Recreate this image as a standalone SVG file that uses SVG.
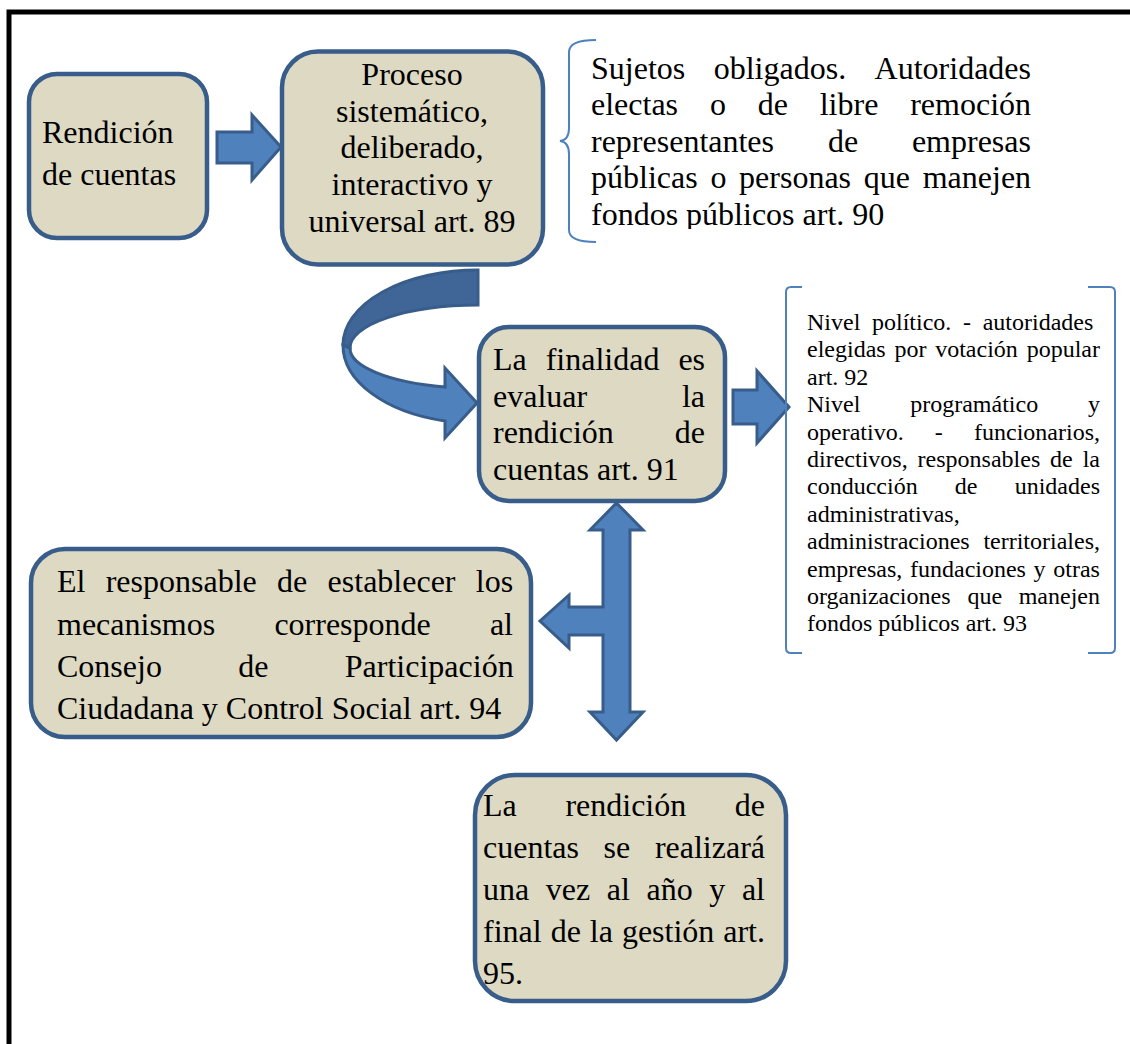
<svg xmlns="http://www.w3.org/2000/svg" width="1130" height="1044" viewBox="0 0 1130 1044">
<style>
.box{fill:#DDD9C3;stroke:#385D8A;stroke-width:4.5}
.arr{fill:#4F81BD;stroke:#385D8A;stroke-width:3;stroke-linejoin:miter}
.arrd{fill:#3F6697;stroke:#385D8A;stroke-width:3}
.brk{fill:none;stroke:#4F81BD;stroke-width:2}
.t{font-family:"Liberation Serif","Times New Roman",serif;font-size:32px;fill:#000}
.s{font-family:"Liberation Serif","Times New Roman",serif;font-size:24px;fill:#000}
</style>
<defs>
<clipPath id="clip1"><rect x="575" y="20" width="520" height="209"/></clipPath>
</defs>
<rect x="0" y="0" width="1130" height="1044" fill="#fff"/>
<rect x="9" y="12" width="1200" height="1100" fill="none" stroke="#000" stroke-width="5"/>

<g id="connectors">
<path class="arr" d="M217,132 L252,132 L252,115 L281,147 L252,180 L252,163 L217,163 Z"/>
<path class="arrd" d="M478,270 A135,75 0 0 0 343,345 L350,348 A128,43 0 0 1 478,305 Z"/>
<path class="arr" d="M343,345 A135,78 0 0 0 445,421 L445,438 L477,403 L445,368 L445,387 A128,40 0 0 1 350,348 Z"/>
<path class="arr" d="M733,390 L757,390 L757,371 L789,407 L757,443 L757,424 L733,424 Z"/>
<path class="arr" d="M616.5,503 L643,530 L630,530 L630,712 L643,712 L616.5,740 L590,712 L603,712 L603,635 L569,635 L569,648 L540,621 L569,595 L569,607 L603,607 L603,530 L590,530 Z"/>
</g>

<g id="node-rendicion">
<rect class="box" x="29" y="74" width="178" height="164" rx="28"/>
<text class="t" x="42" y="143">Rendición</text>
<text class="t" x="42" y="185">de cuentas</text>
</g>

<g id="node-proceso">
<rect class="box" x="282" y="51.5" width="261" height="213" rx="36"/>
<g class="t" text-anchor="middle">
<text x="412" y="85">Proceso</text>
<text x="412" y="122">sistemático,</text>
<text x="412" y="158">deliberado,</text>
<text x="412" y="195">interactivo y</text>
<text x="412" y="232">universal art. 89</text>
</g>
</g>

<g id="node-sujetos">
<path class="brk" d="M596,40 Q569,40 569,52 L569,128 Q569,140 560,141 Q569,142 569,154 L569,230 Q569,242 596,242"/>
<g class="t" clip-path="url(#clip1)">
<text y="78.5"><tspan x="591">Sujetos</tspan><tspan x="713.7">obligados.</tspan><tspan x="874.6">Autoridades</tspan></text>
<text y="115"><tspan x="591">electas</tspan><tspan x="709.9">o</tspan><tspan x="757.7">de</tspan><tspan x="819.7">libre</tspan><tspan x="910.2">remoción</tspan></text>
<text y="151.7"><tspan x="591">representantes</tspan><tspan x="827.9">de</tspan><tspan x="911.9">empresas</tspan></text>
<text y="188.3"><tspan x="591">públicas</tspan><tspan x="710.4">o</tspan><tspan x="739.1">personas</tspan><tspan x="863.8">que</tspan><tspan x="922.7">manejen</tspan></text>
<text y="225" x="591">fondos públicos art. 90</text>
</g>
</g>

<g id="node-finalidad">
<rect class="box" x="479" y="327" width="246" height="174" rx="30"/>
<g class="t">
<text y="370"><tspan x="493">La</tspan><tspan x="545.7">finalidad</tspan><tspan x="678.4">es</tspan></text>
<text y="407"><tspan x="493">evaluar</tspan><tspan x="681.9">la</tspan></text>
<text y="443"><tspan x="493">rendición</tspan><tspan x="674.8">de</tspan></text>
<text y="480" x="493">cuentas art. 91</text>
</g>
</g>

<g id="node-niveles">
<path class="brk" d="M802,287 L791,287 Q786,287 786,292 L786,648 Q786,653 791,653 L802,653"/>
<path class="brk" d="M1088,287 L1110,287 Q1115,287 1115,292 L1115,648 Q1115,653 1110,653 L1088,653"/>
<g class="s">
<text y="330"><tspan x="807">Nivel</tspan><tspan x="872">político.</tspan><tspan x="963">-</tspan><tspan x="982.7">autoridades</tspan></text>
<text y="357.4"><tspan x="807">elegidas</tspan><tspan x="894.4">por</tspan><tspan x="935.2">votación</tspan><tspan x="1026.7">popular</tspan></text>
<text y="384.8" x="807">art. 92</text>
<text y="412.2"><tspan x="807">Nivel</tspan><tspan x="910.2">programático</tspan><tspan x="1088">y</tspan></text>
<text y="439.6"><tspan x="807">operativo.</tspan><tspan x="934.8">-</tspan><tspan x="974">funcionarios,</tspan></text>
<text y="467"><tspan x="807">directivos,</tspan><tspan x="917.6">responsables</tspan><tspan x="1050.1">de</tspan><tspan x="1082.7">la</tspan></text>
<text y="494.4"><tspan x="807">conducción</tspan><tspan x="954.8">de</tspan><tspan x="1014.7">unidades</tspan></text>
<text y="521.8" x="807">administrativas,</text>
<text y="549.2"><tspan x="807">administraciones</tspan><tspan x="983.4">territoriales,</tspan></text>
<text y="576.6"><tspan x="807">empresas,</tspan><tspan x="910">fundaciones</tspan><tspan x="1033.6">y</tspan><tspan x="1053.3">otras</tspan></text>
<text y="604"><tspan x="807">organizaciones</tspan><tspan x="967.5">que</tspan><tspan x="1018.7">manejen</tspan></text>
<text y="631.4" x="807">fondos públicos art. 93</text>
</g>
</g>

<g id="node-responsable">
<rect class="box" x="31" y="549" width="500" height="188" rx="34"/>
<g class="t">
<text y="592"><tspan x="57">El</tspan><tspan x="105.7">responsable</tspan><tspan x="277.1">de</tspan><tspan x="327.6">establecer</tspan><tspan x="475.8">los</tspan></text>
<text y="635"><tspan x="57">mecanismos</tspan><tspan x="274.4">corresponde</tspan><tspan x="489.9">al</tspan></text>
<text y="677"><tspan x="57">Consejo</tspan><tspan x="238.3">de</tspan><tspan x="344.8">Participación</tspan></text>
<text y="719" x="57">Ciudadana y Control Social art. 94</text>
</g>
</g>

<g id="node-anual">
<rect class="box" x="475" y="775" width="311" height="226" rx="40"/>
<g class="t">
<text y="816"><tspan x="483">La</tspan><tspan x="565.4">rendición</tspan><tspan x="734.8">de</tspan></text>
<text y="858"><tspan x="483">cuentas</tspan><tspan x="603.6">se</tspan><tspan x="654.9">realizará</tspan></text>
<text y="900"><tspan x="483">una</tspan><tspan x="545.8">vez</tspan><tspan x="606.8">al</tspan><tspan x="646.5">año</tspan><tspan x="709.3">y</tspan><tspan x="741.9">al</tspan></text>
<text y="942"><tspan x="483">final</tspan><tspan x="550.7">de</tspan><tspan x="589.8">la</tspan><tspan x="621.9">gestión</tspan><tspan x="723.2">art.</tspan></text>
<text y="984" x="483">95.</text>
</g>
</g>
</svg>
